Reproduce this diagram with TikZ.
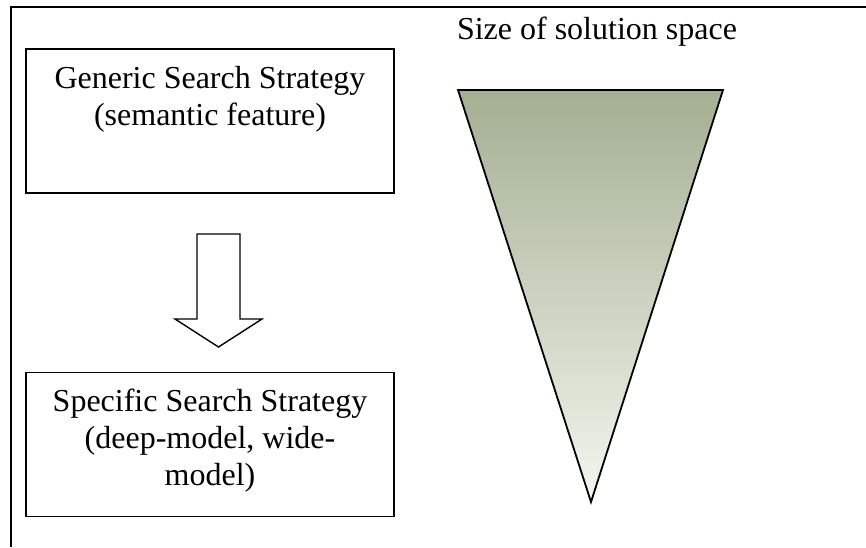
\documentclass[tikz,border=0pt]{standalone}
\usepackage{fontspec}
\setmainfont{Liberation Serif}
\usetikzlibrary{positioning,calc}
\definecolor{spacetop}{HTML}{A4AF93}
\definecolor{spacetip}{HTML}{F3F6EE}
\tikzset{
  stratbox/.style={rectangle,draw,line width=1.8pt,
                   minimum width=368pt,minimum height=144pt,inner sep=0pt},
  stratlabel/.style={text width=350pt,align=flush center,inner sep=0pt,
                     font=\fontsize{32}{37}\selectfont},
  frameline/.style={line width=1.3pt},
  blockarrow/.style={draw,line width=1.4pt,fill=white,line join=miter},
}
\begin{document}
\begin{tikzpicture}[x=1pt,y=-1pt]
    \useasboundingbox (0,0) rectangle (866,547);

    % Frame
    \coordinate (frame-tl) at (11,7);
    \draw[frameline] (866,7) -- (frame-tl) -- (11,547);

    % Strategy boxes
    \node[stratbox] (generic)  at (210,121) {};
    \node[stratbox] (specific) at (210,444.5) {};
    \node[stratlabel,anchor=base] (generictext)
          at ([yshift=-40pt]generic.north)
          {Generic Search Strategy\\(semantic feature)};
    \node[stratlabel,anchor=base] (specifictext)
          at ([yshift=-40pt]specific.north)
          {Specific Search Strategy\\(deep-model, wide-\\model)};

    % Block arrow
    \coordinate (flow) at (218.5,234);
    \draw[blockarrow] (flow) ++(-21.5,0) -- ++(43,0) -- ++(0,85)
          -- ++(22,0) -- (218.5,347) -- (175,319) -- ++(22,0) -- cycle;

    % Solution space
    \node[anchor=base,font=\fontsize{32}{37}\selectfont] (sizetitle)
          at (597,39) {Size of solution space};
    \coordinate (space-l) at (458,90);
    \coordinate (space-r) at (723,90);
    \coordinate (space-tip) at (591,502);
    \shade[draw,line width=1.8pt,top color=spacetop,bottom color=spacetip,
           line join=miter]
          (space-l) -- (space-r) -- (space-tip) -- cycle;
\end{tikzpicture}
\end{document}
